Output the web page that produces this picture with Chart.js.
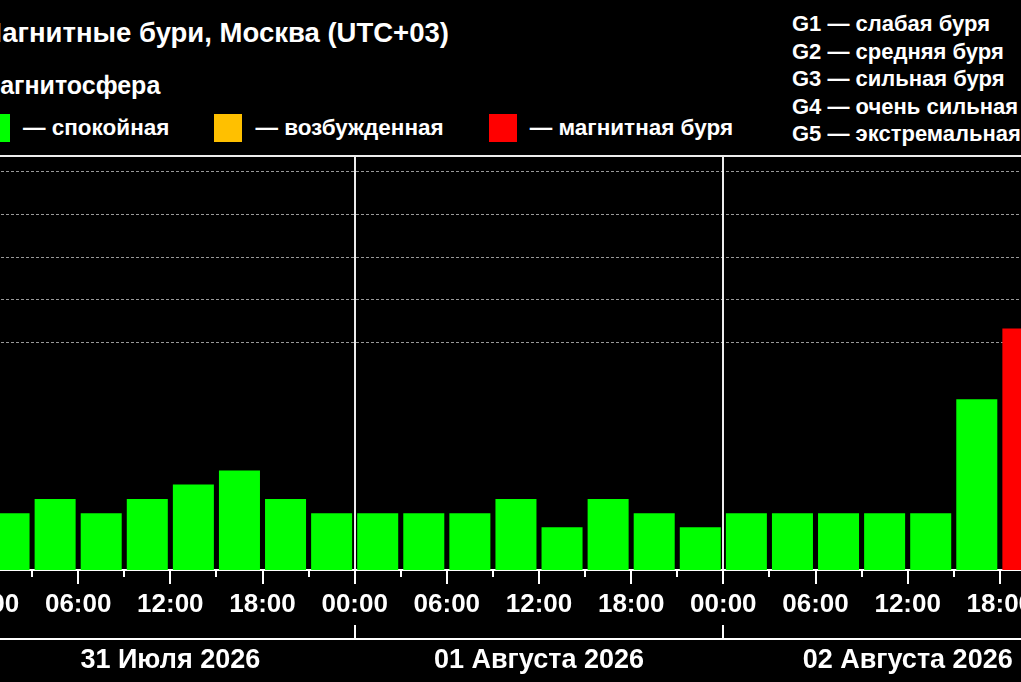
<!doctype html>
<html lang="ru">

<head>
  <meta charset="utf-8">
  <title>Магнитные бури, Москва (UTC+03)</title>
  <script src="https://cdn.jsdelivr.net/npm/chart.js@4"></script>
  <style>
    html, body {
      margin: 0;
      background: #000;
    }

    body {
      position: relative;
      width: 1021px;
      height: 682px;
      overflow: hidden;
      color: #fff;
      font-family: "Liberation Sans", Arial, sans-serif;
      font-weight: bold;
    }

    .title {
      position: absolute;
      left: -21px;
      top: 19px;
      font-size: 27.5px;
      line-height: 27px;
      white-space: nowrap;
    }

    .subtitle {
      position: absolute;
      left: -21px;
      top: 73px;
      font-size: 25px;
      line-height: 25px;
      white-space: nowrap;
    }

    .states {
      position: absolute;
      left: -18px;
      top: 114px;
      display: flex;
      gap: 45px;
      font-size: 22.5px;
      line-height: 28px;
      white-space: nowrap;
    }

    .states span {
      display: flex;
      align-items: center;
    }

    .states i {
      display: inline-block;
      width: 28px;
      height: 28px;
      margin-right: 13px;
    }

    .gscale {
      position: absolute;
      left: 792px;
      top: 10px;
      font-size: 22px;
      line-height: 27.5px;
      white-space: nowrap;
    }

    .chart-box {
      position: absolute;
      left: -60px;
      top: 0;
      width: 1200px;
      height: 682px;
    }
  </style>
</head>

<body>

  <div class="title">Магнитные бури, Москва (UTC+03)</div>
  <div class="subtitle">Магнитосфера</div>
  <div class="states" id="states"></div>
  <div class="gscale" id="gscale"></div>

  <div class="chart-box">
    <canvas id="kp-chart"></canvas>
  </div>

  <script>
    // дни и подписи осей
    const days = ['31 Июля 2026', '01 Августа 2026', '02 Августа 2026'];
    const hourLabels = ['00:00', '06:00', '12:00', '18:00'];

    // Kp-индекс по трёхчасовым интервалам (последний интервал не виден)
    const kpJul31 = [1, 1.33, 1, 1.33, 1.67, 2, 1.33, 1];
    const kpAug01 = [1, 1, 1, 1.33, 0.67, 1.33, 1, 0.67];
    const kpAug02 = [1, 1, 1, 1, 1, 3.67, 5.33, null];

    // легенда
    const stateNames = ['— спокойная', '— возбужденная', '— магнитная буря'];
    const stateColors = ['#00ff00', '#ffc000', '#ff0000'];
    const stormLevels = ['G1 — слабая буря', 'G2 — средняя буря', 'G3 — сильная буря',
      'G4 — очень сильная буря', 'G5 — экстремальная буря'];

    const Y_MIN = -1 / 3;
    const Y_MAX = 9.375;

    document.getElementById('states').innerHTML = stateNames
      .map((name, i) => '<span><i style="background:' + stateColors[i] + '"></i>' + name + '</span>')
      .join('');
    document.getElementById('gscale').innerHTML = stormLevels.map(s => '<div>' + s + '</div>').join('');

    const kp = [...kpJul31, ...kpAug01, ...kpAug02];
    const points = kp.map((v, i) => ({ x: i * 3 + 1.5, y: v }));

    function barColor(v) {
      if (v >= 5) return stateColors[2];
      if (v >= 4) return stateColors[1];
      return stateColors[0];
    }

    // короткие засечки через 3 часа и засечки границ дней над строкой дат
    const axisMarks = {
      id: 'axisMarks',
      afterDraw(chart) {
        const ctx = chart.ctx;
        const x = chart.scales.x;
        const d = chart.scales.days;
        ctx.save();
        ctx.strokeStyle = '#fff';
        ctx.lineWidth = 2;
        ctx.beginPath();
        for (let h = 3; h < 72; h += 6) {
          const px = Math.round(x.getPixelForValue(h));
          ctx.moveTo(px, x.top);
          ctx.lineTo(px, x.top + 7);
        }
        for (let i = 0; i <= days.length; i++) {
          const px = Math.round(d.getPixelForValue(i * 24));
          ctx.moveTo(px, d.top);
          ctx.lineTo(px, d.top - 14);
        }
        ctx.stroke();
        ctx.restore();
      }
    };

    const family = '"Liberation Sans", Arial, sans-serif';

    new Chart(document.getElementById('kp-chart'), {
      type: 'bar',
      data: {
        datasets: [{
          data: points,
          base: Y_MIN,
          backgroundColor: ctx => barColor(ctx.raw ? ctx.raw.y : 0),
          barPercentage: 0.89,
          categoryPercentage: 1
        }]
      },
      options: {
        responsive: true,
        maintainAspectRatio: false,
        animation: false,
        layout: {
          padding: { left: 46, right: 48, top: 156, bottom: 0 }
        },
        plugins: {
          legend: { display: false },
          tooltip: { enabled: false }
        },
        scales: {
          x: {
            type: 'linear',
            position: 'bottom',
            min: 0,
            max: 72,
            offset: false,
            ticks: {
              stepSize: 6,
              autoSkip: false,
              maxRotation: 0,
              padding: 5,
              color: '#fff',
              font: { family: family, size: 26, weight: 'bold' },
              callback: v => hourLabels[(v % 24) / 6]
            },
            grid: {
              offset: false,
              drawOnChartArea: true,
              color: c => (c.tick && c.tick.value % 24 === 0) ? '#ececec' : 'rgba(0,0,0,0)',
              lineWidth: 2,
              tickLength: 14,
              tickColor: '#fff',
              tickWidth: 2
            },
            border: { color: '#fff', width: 2 },
            afterFit: s => { s.height = 69; }
          },
          days: {
            type: 'linear',
            axis: 'x',
            position: 'bottom',
            min: 0,
            max: 72,
            offset: false,
            afterBuildTicks: s => { s.ticks = days.map((_, i) => ({ value: i * 24 + 12 })); },
            ticks: {
              autoSkip: false,
              maxRotation: 0,
              padding: 5,
              color: '#fff',
              font: { family: family, size: 27, weight: 'bold' },
              callback: v => days[(v - 12) / 24]
            },
            grid: { offset: false, drawOnChartArea: false, drawTicks: false },
            border: { color: '#fff', width: 2 },
            afterFit: s => { s.height = 43; }
          },
          y: {
            min: Y_MIN,
            max: Y_MAX,
            afterBuildTicks: s => { s.ticks = [5, 6, 7, 8, 9, Y_MAX].map(v => ({ value: v })); },
            ticks: { display: false },
            grid: {
              drawTicks: false,
              color: c => c.tick && c.tick.value === Y_MAX ? '#ececec' : 'rgba(255,255,255,0.6)',
              lineWidth: c => c.tick && c.tick.value === Y_MAX ? 2 : 1
            },
            border: {
              display: false,
              dash: c => c.tick && c.tick.value === Y_MAX ? [] : [3, 2]
            },
            afterFit: s => { s.width = 0; }
          }
        }
      },
      plugins: [axisMarks]
    });
  </script>

</body>

</html>
